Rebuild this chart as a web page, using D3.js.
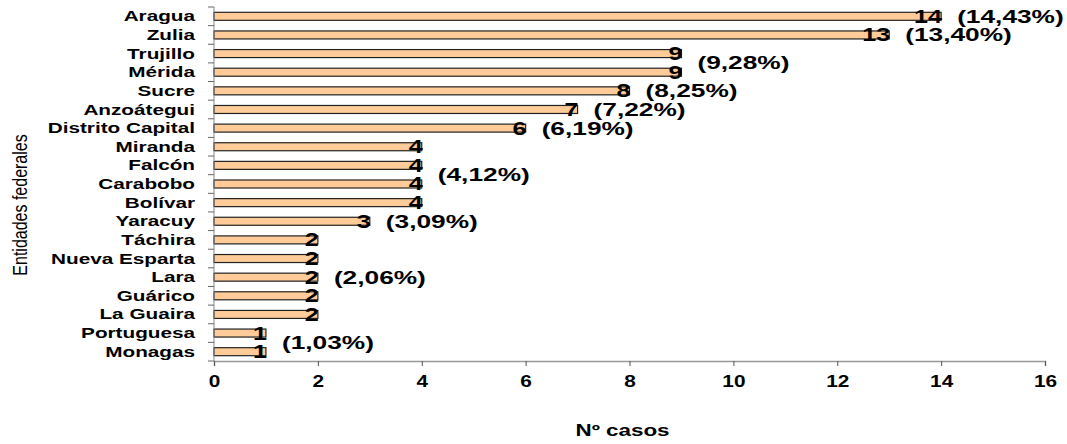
<!DOCTYPE html>
<meta charset="UTF-8">

<head>
    <script src="https://d3js.org/d3.v7.min.js"></script>
    <style>
        body {
            margin: 0;
            background: #fff;
        }

        text {
            font-family: "Liberation Sans", Arial, sans-serif;
            font-weight: bold;
            fill: #000;
        }
    </style>
</head>

<body>

    <script>
        // states, top to bottom
        var estados = ["Aragua", "Zulia", "Trujillo", "Mérida", "Sucre", "Anzoátegui",
            "Distrito Capital", "Miranda", "Falcón", "Carabobo", "Bolívar", "Yaracuy",
            "Táchira", "Nueva Esparta", "Lara", "Guárico", "La Guaira", "Portuguesa", "Monagas"];
        var casos = [14, 13, 9, 9, 8, 7, 6, 4, 4, 4, 4, 3, 2, 2, 2, 2, 2, 1, 1];

        // one percentage label for each group of equal values
        var grupos = [14, 13, 9, 8, 7, 6, 4, 3, 2, 1];
        var porcentajes = ["(14,43%)", "(13,40%)", "(9,28%)", "(8,25%)", "(7,22%)",
            "(6,19%)", "(4,12%)", "(3,09%)", "(2,06%)", "(1,03%)"];

        var xTicks = [0, 2, 4, 6, 8, 10, 12, 14, 16];

        var margin = { top: 7, right: 22, bottom: 83, left: 214 },
            width = 1067 - margin.left - margin.right,
            height = 444 - margin.top - margin.bottom;

        var svg = d3.select("body")
            .append("svg")
            .attr("width", 1067)
            .attr("height", 444);

        var g = svg.append("g")
            .attr("transform", "translate(" + margin.left + "," + margin.top + ")");

        var x = d3.scaleLinear().domain([0, 16]).range([0, width]);
        var y = d3.scaleBand().domain(estados).range([0, height]);

        // the original picture is stretched sideways, so text is widened too
        function wide(sel, px, py, sx) {
            return sel.attr("transform", function (d, i) {
                return "translate(" + px(d, i) + "," + py(d, i) + ") scale(" + sx + ",1)";
            });
        }

        function mid(d) { return y(d) + y.bandwidth() / 2; }

        // bars
        var barH = 8;
        g.selectAll("rect.bar")
            .data(estados)
            .enter()
            .append("rect")
            .attr("class", "bar")
            .attr("x", 0)
            .attr("y", function (d) { return mid(d) - barH / 2; })
            .attr("width", function (d, i) { return x(casos[i]); })
            .attr("height", barH)
            .attr("fill", "#FFCC99")
            .attr("stroke", "#222")
            .attr("stroke-width", 1.2);

        // y axis: line + ticks at band edges
        g.append("line")
            .attr("x1", 0).attr("x2", 0)
            .attr("y1", 0).attr("y2", height)
            .attr("stroke", "#888");
        var edges = estados.map(function (d) { return y(d); }).concat([height]);
        g.selectAll("line.ytick")
            .data(edges)
            .enter()
            .append("line")
            .attr("class", "ytick")
            .attr("x1", -6).attr("x2", 0)
            .attr("y1", function (d) { return d; })
            .attr("y2", function (d) { return d; })
            .attr("stroke", "#666");

        // category labels
        var cat = g.selectAll("text.cat")
            .data(estados)
            .enter()
            .append("text")
            .attr("class", "cat")
            .attr("dy", "0.36em")
            .attr("text-anchor", "end")
            .style("font-size", "14px")
            .text(function (d) { return d; });
        wide(cat, function () { return -19; }, mid, 1.48);

        // x axis
        var xAxis = g.append("g")
            .attr("transform", "translate(0," + height + ")")
            .call(d3.axisBottom(x).tickValues(xTicks).tickSize(5).tickPadding(9));
        xAxis.select(".domain").attr("stroke", "#999").attr("stroke-width", 1.5);
        xAxis.selectAll(".tick line").attr("stroke", "#555");
        xAxis.selectAll(".tick text")
            .attr("y", null)
            .attr("dy", null)
            .attr("transform", "translate(0,26) scale(1.3,1)")
            .style("font-size", "16px")
            .style("font-family", "'Liberation Sans', Arial, sans-serif")
            .style("font-weight", "bold")
            .attr("fill", "#000");

        // value labels at bar ends
        var val = g.selectAll("text.val")
            .data(estados)
            .enter()
            .append("text")
            .attr("class", "val")
            .attr("dy", "0.36em")
            .attr("text-anchor", "end")
            .style("font-size", "18px")
            .text(function (d, i) { return casos[i]; });
        wide(val, function (d, i) { return x(casos[i]) + 1; }, mid, 1.4);

        // percentage labels, centred on their group of rows
        var pct = g.selectAll("text.pct")
            .data(grupos)
            .enter()
            .append("text")
            .attr("class", "pct")
            .attr("dy", "0.36em")
            .style("font-size", "18px")
            .text(function (v, i) { return porcentajes[i]; });
        wide(pct, function (v) { return x(v) + 16; }, function (v) {
            var ys = estados.filter(function (d, i) { return casos[i] === v; }).map(mid);
            return d3.mean(ys);
        }, 1.46);

        // axis titles
        svg.append("text")
            .attr("transform", "translate(" + (margin.left + x(8) - 7) + ",436) scale(1.4,1)")
            .attr("text-anchor", "middle")
            .style("font-size", "16px")
            .text("Nº casos");

        svg.append("text")
            .attr("transform", "translate(20,205) scale(1.3,1) rotate(-90)")
            .attr("text-anchor", "middle")
            .attr("dy", "0.35em")
            .style("font-size", "16px")
            .style("font-weight", "normal")
            .text("Entidades federales");
    </script>

</body>
